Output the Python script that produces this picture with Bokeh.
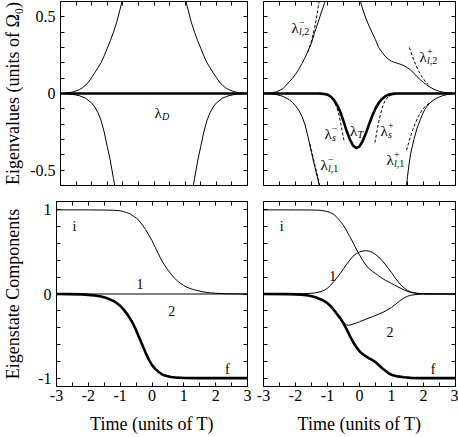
from bokeh.plotting import figure
from bokeh.models import Range1d, LinearAxis, FixedTicker, Label
from bokeh.layouts import column, row
from bokeh.embed import file_html
from bokeh.resources import INLINE

FONT = "Liberation Serif"

# ---------------- data ----------------
# top-left panel: eigenvalues, diabatic case
tl_up_t = [-3.0, -2.8, -2.6, -2.4, -2.3, -2.2, -2.1, -2.0, -1.9, -1.8, -1.7, -1.6, -1.5, -1.4, -1.3, -1.2, -1.1, -1.0, -0.9,
           0.9, 1.0, 1.1, 1.2, 1.3, 1.4, 1.5, 1.6, 1.7, 1.8, 1.9, 2.0, 2.1, 2.2, 2.3, 2.4, 2.6, 2.8, 3.0]
tl_up_v = [0.0, 0.003, 0.010, 0.025, 0.037, 0.053, 0.075, 0.105, 0.135, 0.168, 0.200, 0.245, 0.295, 0.345, 0.400, 0.462, 0.540, 0.620, 0.70,
           0.70, 0.620, 0.540, 0.462, 0.400, 0.345, 0.295, 0.245, 0.200, 0.168, 0.135, 0.105, 0.075, 0.053, 0.037, 0.025, 0.010, 0.003, 0.0]
tl_lo_t = [-3.0, -2.8, -2.6, -2.4, -2.2, -2.0, -1.9, -1.8, -1.7, -1.6, -1.5, -1.4, -1.3, -1.2, -1.1,
           1.1, 1.2, 1.3, 1.4, 1.5, 1.6, 1.7, 1.8, 1.9, 2.0, 2.2, 2.4, 2.6, 2.8, 3.0]
tl_lo_v = [0.0, -0.002, -0.006, -0.014, -0.030, -0.062, -0.088, -0.125, -0.175, -0.25, -0.345, -0.44, -0.555, -0.67, -0.79,
           -0.79, -0.67, -0.555, -0.44, -0.345, -0.25, -0.175, -0.125, -0.088, -0.062, -0.030, -0.014, -0.006, -0.002, 0.0]
tl_d_t = [-3.0, 3.0]
tl_d_v = [0.0, 0.0]

# top-right panel: eigenvalues, full case
tr_up_t = [-3.0, -2.8, -2.6, -2.4, -2.2, -2.1, -2.0, -1.9, -1.8, -1.7, -1.6, -1.5, -1.4, -1.3, -1.2, -1.1, -1.0, -0.9,
           -0.1, 0.0, 0.1, 0.2, 0.3, 0.4, 0.5, 0.6, 0.7, 0.8, 0.9, 1.0, 1.1, 1.2, 1.3, 1.4, 1.5, 1.6, 1.7, 1.8, 1.9,
           2.0, 2.1, 2.2, 2.3, 2.4, 2.5, 2.6, 2.8, 3.0]
tr_up_v = [0.0, 0.003, 0.010, 0.030, 0.075, 0.098, 0.125, 0.157, 0.195, 0.235, 0.28, 0.33, 0.40, 0.46, 0.525, 0.585, 0.65, 0.72,
           0.70, 0.62, 0.55, 0.49, 0.44, 0.395, 0.35, 0.30, 0.27, 0.243, 0.225, 0.21, 0.203, 0.196, 0.189, 0.18, 0.168, 0.153, 0.132, 0.11, 0.09,
           0.072, 0.056, 0.042, 0.030, 0.021, 0.014, 0.009, 0.003, 0.0]
tr_T_t = [-3.0, -1.3, -1.2, -1.1, -1.0, -0.9, -0.8, -0.7, -0.6, -0.5, -0.4, -0.3, -0.2, -0.1, 0.0, 0.1, 0.2, 0.3,
          0.4, 0.5, 0.6, 0.7, 0.8, 0.9, 1.0, 1.1, 1.2, 3.0]
tr_T_v = [0.0, 0.0, -0.001, -0.003, -0.008, -0.02, -0.042, -0.075, -0.12, -0.18, -0.245, -0.30, -0.34, -0.356, -0.345, -0.31, -0.26, -0.20,
          -0.145, -0.098, -0.062, -0.036, -0.019, -0.009, -0.004, -0.001, 0.0, 0.0]
tr_lo1_t = [-3.0, -2.8, -2.6, -2.4, -2.2, -2.1, -2.0, -1.9, -1.8, -1.7, -1.6, -1.5, -1.4, -1.3, -1.2, -1.1]
tr_lo1_v = [0.0, -0.002, -0.007, -0.018, -0.040, -0.057, -0.080, -0.108, -0.148, -0.205, -0.29, -0.385, -0.475, -0.56, -0.65, -0.74]
tr_lo2_t = [1.4, 1.47, 1.5, 1.55, 1.6, 1.7, 1.8, 1.9, 2.0, 2.1, 2.2, 2.3, 2.4, 2.5, 2.6, 2.8, 3.0]
tr_lo2_v = [-0.70, -0.60, -0.54, -0.46, -0.39, -0.30, -0.225, -0.17, -0.12, -0.085, -0.062, -0.045, -0.032, -0.022, -0.014, -0.004, 0.0]
# dashed approximations
l2m_t = [-1.62, -1.55, -1.5, -1.45, -1.4, -1.35, -1.3, -1.25]
l2m_v = [0.27, 0.31, 0.345, 0.385, 0.43, 0.485, 0.55, 0.62]
l2p_t = [1.56, 1.65, 1.75, 1.85, 1.95, 2.05, 2.15]
l2p_v = [0.30, 0.245, 0.19, 0.145, 0.11, 0.08, 0.058]
sm_t = [-0.95, -0.9, -0.8, -0.7, -0.645, -0.6, -0.55, -0.5, -0.475]
sm_v = [-0.014, -0.022, -0.048, -0.095, -0.135, -0.18, -0.235, -0.29, -0.32]
sp_t = [0.48, 0.5, 0.55, 0.6, 0.65, 0.7, 0.76, 0.8, 0.9, 1.0]
sp_v = [-0.32, -0.30, -0.24, -0.185, -0.14, -0.10, -0.065, -0.048, -0.02, -0.007]
l1m_t = [-1.55, -1.5, -1.4, -1.3, -1.2, -1.15]
l1m_v = [-0.33, -0.372, -0.462, -0.547, -0.637, -0.68]
l1p_t = [1.47, 1.55, 1.65, 1.75, 1.85, 1.95, 2.05, 2.15, 2.25]
l1p_v = [-0.37, -0.31, -0.245, -0.19, -0.145, -0.11, -0.085, -0.068, -0.054]

# bottom-left panel: eigenstate components, diabatic case
bl_1_t = [-3.0, -2.0, -1.6, -1.2, -1.0, -0.9, -0.8, -0.7, -0.6, -0.5, -0.4, -0.3, -0.2, -0.1, 0.0, 0.1, 0.2, 0.3,
          0.4, 0.5, 0.6, 0.7, 0.8, 0.9, 1.0, 1.1, 1.2, 1.3, 1.4, 1.6, 1.8, 2.0, 2.3, 2.6, 3.0]
bl_1_v = [1.0, 1.0, 0.999, 0.996, 0.99, 0.98, 0.97, 0.955, 0.93, 0.905, 0.87, 0.82, 0.765, 0.70, 0.635, 0.555, 0.48, 0.40,
          0.34, 0.285, 0.235, 0.19, 0.155, 0.125, 0.10, 0.08, 0.065, 0.053, 0.043, 0.026, 0.015, 0.009, 0.004, 0.001, 0.0]
bl_2_t = [-3.0, 3.0]
bl_2_v = [0.0, 0.0]
bl_f_t = [-3.0, -2.6, -2.2, -2.0, -1.8, -1.6, -1.4, -1.2, -1.1, -1.0, -0.9, -0.8, -0.7, -0.6, -0.5, -0.4, -0.3, -0.2,
          -0.1, 0.0, 0.1, 0.2, 0.3, 0.4, 0.6, 0.8, 1.0, 1.5, 3.0]
bl_f_v = [0.0, -0.001, -0.005, -0.01, -0.018, -0.03, -0.052, -0.085, -0.11, -0.14, -0.18, -0.23, -0.285, -0.35, -0.43, -0.52, -0.61, -0.70,
          -0.78, -0.845, -0.89, -0.925, -0.952, -0.97, -0.987, -0.995, -0.999, -1.0, -1.0]

# bottom-right panel: eigenstate components, full case
br_i_t = [-3.0, -2.0, -1.5, -1.3, -1.2, -1.1, -1.0, -0.9, -0.8, -0.7, -0.6, -0.5, -0.4, -0.3, -0.2, -0.1, 0.0, 0.1, 0.2,
          0.3, 0.4, 0.5, 0.6, 0.7, 0.8, 0.9, 1.0, 1.1, 1.2, 1.3, 1.4, 1.5, 1.6, 1.7, 1.8, 2.0, 2.3, 3.0]
br_i_v = [1.0, 1.0, 0.999, 0.997, 0.995, 0.988, 0.98, 0.967, 0.945, 0.91, 0.865, 0.815, 0.75, 0.68, 0.61, 0.535, 0.465, 0.40, 0.345,
          0.30, 0.27, 0.245, 0.215, 0.19, 0.165, 0.145, 0.125, 0.105, 0.085, 0.065, 0.047, 0.03, 0.02, 0.012, 0.007, 0.003, 0.001, 0.0]
br_1_t = [-3.0, -2.0, -1.8, -1.6, -1.4, -1.2, -1.1, -1.0, -0.9, -0.8, -0.7, -0.6, -0.5, -0.4, -0.3, -0.2, -0.1, 0.0, 0.1,
          0.2, 0.3, 0.4, 0.5, 0.6, 0.7, 0.8, 0.9, 1.0, 1.1, 1.2, 1.3, 1.4, 1.5, 1.6, 1.7, 1.8, 2.0, 2.3, 3.0]
br_1_v = [0.0, 0.001, 0.003, 0.006, 0.012, 0.03, 0.045, 0.07, 0.105, 0.15, 0.195, 0.245, 0.30, 0.355, 0.405, 0.45, 0.48, 0.50, 0.51,
          0.515, 0.51, 0.495, 0.47, 0.44, 0.40, 0.355, 0.305, 0.255, 0.20, 0.15, 0.105, 0.07, 0.042, 0.025, 0.015, 0.008, 0.003, 0.001, 0.0]
br_2_t = [-3.0, -2.0, -1.8, -1.6, -1.4, -1.2, -1.0, -0.9, -0.8, -0.7, -0.6, -0.5, -0.45, -0.4, -0.35, -0.3, -0.2, -0.1,
          0.0, 0.2, 0.4, 0.6, 0.8, 1.0, 1.1, 1.2, 1.3, 1.4, 1.5, 1.6, 1.8, 2.0, 3.0]
br_2_v = [0.0, -0.003, -0.006, -0.016, -0.033, -0.06, -0.10, -0.135, -0.178, -0.228, -0.278, -0.33, -0.355, -0.368, -0.372, -0.37, -0.358, -0.345,
          -0.33, -0.30, -0.27, -0.24, -0.205, -0.16, -0.13, -0.10, -0.07, -0.045, -0.027, -0.015, -0.005, -0.002, 0.0]
br_f_t = [-3.0, -2.2, -2.0, -1.8, -1.6, -1.4, -1.2, -1.1, -1.0, -0.9, -0.8, -0.7, -0.6, -0.5, -0.4, -0.3, -0.2, -0.1,
          0.0, 0.1, 0.2, 0.3, 0.4, 0.5, 0.6, 0.7, 0.8, 0.9, 1.0, 1.1, 1.2, 1.4, 1.6, 2.0, 3.0]
br_f_v = [0.0, -0.002, -0.004, -0.008, -0.018, -0.036, -0.065, -0.085, -0.11, -0.145, -0.19, -0.24, -0.29, -0.35, -0.42, -0.50, -0.57, -0.63,
          -0.68, -0.715, -0.74, -0.765, -0.785, -0.81, -0.845, -0.88, -0.91, -0.94, -0.96, -0.972, -0.98, -0.99, -0.997, -1.0, -1.0]

# ticks
x_ticks = [-3, -2, -1, 0, 1, 2, 3]
x_minor = [-2.5, -1.5, -0.5, 0.5, 1.5, 2.5]
x_labels = {-3: "-3", -2: "-2", -1: "-1", 0: "0", 1: "1", 2: "2", 3: "3"}
ytop_ticks = [-0.5, 0, 0.5]
ytop_minor = [-0.4, -0.3, -0.2, -0.1, 0.1, 0.2, 0.3, 0.4]
ytop_labels = {-0.5: "-0.5", 0: "0", 0.5: "0.5"}
ybot_ticks = [-1, 0, 1]
ybot_minor = [-0.8, -0.6, -0.4, -0.2, 0.2, 0.4, 0.6, 0.8]
ybot_labels = {-1: "-1", 0: "0", 1: "1"}


# ---------------- helpers ----------------
def base_fig(yr, w, h, bl, br, bt, bb):
    p = figure(width=w, height=h, x_range=Range1d(-3, 3), y_range=Range1d(*yr),
               x_axis_type=None, y_axis_type=None, output_backend="svg",
               toolbar_location=None, min_border_left=bl, min_border_right=br,
               min_border_top=bt, min_border_bottom=bb)
    p.outline_line_color = "black"
    p.outline_line_alpha = 1.0
    p.outline_line_width = 1
    p.background_fill_color = "white"
    p.border_fill_color = "white"
    return p


def add_axis(p, side, ticks, minor, labels=None, axis_label=None, label_standoff=4):
    ax = LinearAxis(ticker=FixedTicker(ticks=ticks, minor_ticks=minor))
    ax.axis_line_color = None
    ax.major_tick_in = 4
    ax.major_tick_out = 0
    ax.minor_tick_in = 4
    ax.minor_tick_out = 0
    ax.major_tick_line_color = "black"
    ax.minor_tick_line_color = "black"
    if labels is None:
        ax.major_label_text_color = None
        ax.major_label_text_font_size = "0px"
        ax.major_label_standoff = 0
    else:
        ax.major_label_overrides = labels
        ax.major_label_text_font = FONT
        ax.major_label_text_font_size = "16px"
        ax.major_label_text_color = "black"
        ax.major_label_standoff = 5 if side == "left" else 3
    if axis_label:
        ax.axis_label = axis_label
        ax.axis_label_text_font = FONT
        ax.axis_label_text_font_size = "18px"
        ax.axis_label_text_font_style = "normal"
        ax.axis_label_text_color = "black"
        ax.axis_label_standoff = label_standoff
    p.add_layout(ax, side)


def txt(p, x, y, s, size=14, italic=False, xoff=0, align="left"):
    p.add_layout(Label(x=x, y=y, text=s, x_offset=xoff, text_font=FONT,
                       text_font_size=f"{size}px",
                       text_font_style="italic" if italic else "normal",
                       text_align=align, text_baseline="alphabetic",
                       text_color="black"))


def lam(p, x, y, vpp, subs, sup=None):
    txt(p, x, y, "\u03bb", 15)
    off = 7.5
    for s, it, w in subs:
        txt(p, x, y - 3.5 * vpp, s, 10, it, off)
        off += w
    if sup:
        txt(p, x, y + 6 * vpp, sup, 10, False, 7.5)


THIN = 1.0
THICK = 2.6
DASH = "3 2"
XLABEL = "Time (units of T)"

# ---------------- top-left ----------------
tl = base_fig((-0.6, 0.6), 255, 193, 56, 8, 1, 8)
add_axis(tl, "left", ytop_ticks, ytop_minor, ytop_labels, "Eigenvalues (units of \u03a9\u2080)", 4)
add_axis(tl, "right", ytop_ticks, ytop_minor)
add_axis(tl, "below", x_ticks, x_minor)
add_axis(tl, "above", x_ticks, x_minor)
tl.line(tl_up_t, tl_up_v, line_color="black", line_width=THIN)
tl.line(tl_lo_t, tl_lo_v, line_color="black", line_width=THIN)
tl.line(tl_d_t, tl_d_v, line_color="black", line_width=THICK)
vpp_top = 1.2 / 184
lam(tl, 0.016, -0.129, vpp_top, [("D", True, 7)])

# ---------------- top-right ----------------
tr = base_fig((-0.6, 0.6), 203, 193, 8, 3, 1, 8)
add_axis(tr, "left", ytop_ticks, ytop_minor)
add_axis(tr, "right", ytop_ticks, ytop_minor)
add_axis(tr, "below", x_ticks, x_minor)
add_axis(tr, "above", x_ticks, x_minor)
tr.line(tr_up_t, tr_up_v, line_color="black", line_width=THIN)
tr.line(tr_lo1_t, tr_lo1_v, line_color="black", line_width=THIN)
tr.line(tr_lo2_t, tr_lo2_v, line_color="black", line_width=THIN)
tr.line(tr_T_t, tr_T_v, line_color="black", line_width=THICK)
for xs, ys in [(l2m_t, l2m_v), (l2p_t, l2p_v), (sm_t, sm_v), (sp_t, sp_v), (l1m_t, l1m_v), (l1p_t, l1p_v)]:
    tr.line(xs, ys, line_color="black", line_width=THIN, line_dash=DASH)
lam(tr, -2.125, 0.427, vpp_top, [("l", True, 2.8), (",2", False, 6)], "\u2212")
lam(tr, 1.875, 0.237, vpp_top, [("l", True, 2.8), (",2", False, 6)], "+")
lam(tr, -1.094, -0.266, vpp_top, [("s", True, 4)], "\u2212")
lam(tr, -0.30, -0.246, vpp_top, [("T", True, 6)])
lam(tr, 0.656, -0.246, vpp_top, [("s", True, 4)], "+")
lam(tr, -1.22, -0.469, vpp_top, [("l", True, 2.8), (",1", False, 6)], "\u2212")
lam(tr, 0.844, -0.436, vpp_top, [("l", True, 2.8), (",1", False, 6)], "+")

# ---------------- bottom-left ----------------
bl = base_fig((-1.1, 1.1), 255, 244, 56, 8, 8, 51)
add_axis(bl, "left", ybot_ticks, ybot_minor, ybot_labels, "Eigenstate Components", 12)
add_axis(bl, "right", ybot_ticks, ybot_minor)
add_axis(bl, "below", x_ticks, x_minor, x_labels, XLABEL, 10)
add_axis(bl, "above", x_ticks, x_minor)
bl.line(bl_2_t, bl_2_v, line_color="black", line_width=THIN)
bl.line(bl_1_t, bl_1_v, line_color="black", line_width=THIN)
bl.line(bl_f_t, bl_f_v, line_color="black", line_width=THICK)
txt(bl, -2.50, 0.80, "i", 14)
txt(bl, -0.49, 0.12, "1", 14)
txt(bl, 0.51, -0.20, "2", 14)
txt(bl, 2.29, -0.90, "f", 14)

# ---------------- bottom-right ----------------
br = base_fig((-1.1, 1.1), 203, 244, 8, 3, 8, 51)
add_axis(br, "left", ybot_ticks, ybot_minor)
add_axis(br, "right", ybot_ticks, ybot_minor)
add_axis(br, "below", x_ticks, x_minor, x_labels, XLABEL, 10)
add_axis(br, "above", x_ticks, x_minor)
br.line(br_i_t, br_i_v, line_color="black", line_width=THIN)
br.line(br_1_t, br_1_v, line_color="black", line_width=THIN)
br.line(br_2_t, br_2_v, line_color="black", line_width=THIN)
br.line(br_f_t, br_f_v, line_color="black", line_width=THICK)
txt(br, -2.49, 0.806, "i", 14)
txt(br, -0.947, 0.21, "1", 14)
txt(br, 0.844, -0.45, "2", 14)
txt(br, 2.23, -0.895, "f", 14)

layout = column(row(tl, tr, spacing=0), row(bl, br, spacing=0), spacing=0)

open("out.html", "w").write(file_html(layout, INLINE))
